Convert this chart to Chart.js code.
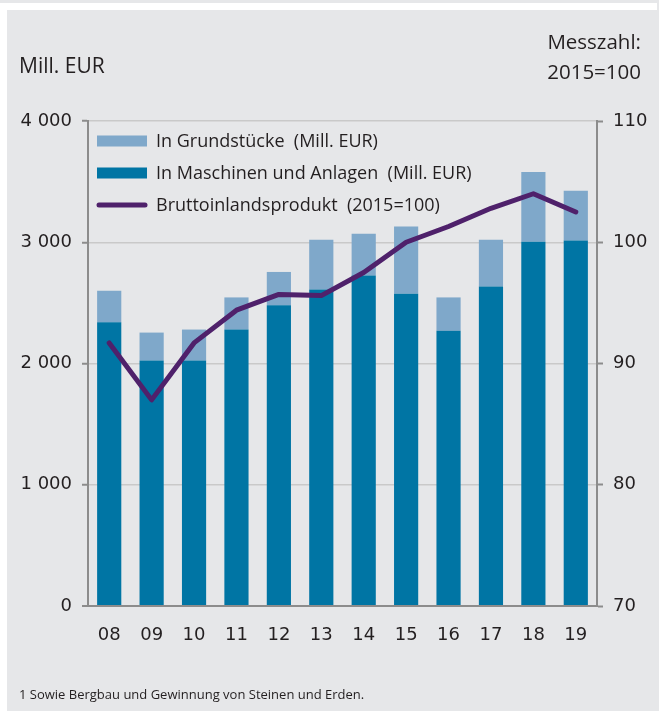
<!DOCTYPE html>
<html>
<head>
<meta charset="utf-8">
<script src="https://cdn.jsdelivr.net/npm/chart.js@4"></script>
<style>
  html, body { margin: 0; padding: 0; background: #ffffff; }
  #wrap { position: relative; width: 659px; height: 711px; }
</style>
</head>
<body>
<div id="wrap"><canvas id="chart" width="659" height="711"></canvas></div>
<script>
// Daten
const jahre = ["08", "09", "10", "11", "12", "13", "14", "15", "16", "17", "18", "19"];
const maschinen = [2340, 2025, 2025, 2280, 2480, 2610, 2725, 2575, 2270, 2635, 3005, 3015];
const grundstuecke = [260, 230, 255, 265, 275, 410, 345, 555, 275, 385, 575, 410];
const bip = [91.7, 87.0, 91.7, 94.4, 95.7, 95.6, 97.5, 100.0, 101.3, 102.8, 104.0, 102.5];
const tickLinks = ["0", "1 000", "2 000", "3 000", "4 000"];
const tickRechts = ["70", "80", "90", "100", "110"];

const schrift = "'Open Sans', 'DejaVu Sans', sans-serif";
const zahlSchrift = "'DejaVu Sans', sans-serif";
const textFarbe = "#231f20";
const achsFarbe = "#8c8c8c";
const gitterFarbe = "#c9c9c9";

const hintergrund = {
    id: "hintergrund",
    beforeDraw(chart) {
        const c = chart.ctx;
        c.save();
        c.fillStyle = "#e6e7e9";
        c.fillRect(0, 0, chart.width, chart.height);
        c.fillStyle = "#ffffff";
        c.fillRect(0, 3, 657, 7);
        c.fillRect(0, 10, 7, chart.height - 10);
        c.restore();
    }
};

const beschriftung = {
    id: "beschriftung",
    afterDraw(chart) {
        const c = chart.ctx;
        c.save();
        c.fillStyle = textFarbe;
        c.textBaseline = "middle";
        c.font = "21px " + schrift;
        c.textAlign = "left";
        c.fillText("Mill. EUR", 19, 67);
        c.font = "20.5px " + schrift;
        c.textAlign = "right";
        c.fillText("Messzahl:", 641, 43);
        c.fillText("2015=100", 641, 73);
        c.textAlign = "left";
        c.font = "13px " + schrift;
        c.fillText("1 Sowie Bergbau und Gewinnung von Steinen und Erden.", 19, 695);

        // Legende
        const eintraege = [chart.data.datasets[1], chart.data.datasets[0], chart.data.datasets[2]];
        c.font = "18px " + schrift;
        eintraege.forEach((ds, i) => {
            const y = 141 + i * 32;
            if (ds.type === "line") {
                c.strokeStyle = ds.borderColor;
                c.lineWidth = 5;
                c.lineCap = "round";
                c.beginPath();
                c.moveTo(99, y);
                c.lineTo(145, y);
                c.stroke();
            } else {
                c.fillStyle = ds.backgroundColor;
                c.fillRect(97, y - 5.5, 50, 11);
            }
            c.fillStyle = textFarbe;
            c.fillText(ds.label, 156, y + 1);
        });
        c.restore();
    }
};

new Chart(document.getElementById("chart"), {
    data: {
        labels: jahre,
        datasets: [
            {
                type: "bar",
                label: "In Maschinen und Anlagen  (Mill. EUR)",
                data: maschinen,
                backgroundColor: "#0075a4",
                yAxisID: "y",
                stack: "inv",
                order: 2,
                barPercentage: 0.57,
                categoryPercentage: 1
            },
            {
                type: "bar",
                label: "In Grundstücke  (Mill. EUR)",
                data: grundstuecke,
                backgroundColor: "#7fa8ca",
                yAxisID: "y",
                stack: "inv",
                order: 2,
                barPercentage: 0.57,
                categoryPercentage: 1
            },
            {
                type: "line",
                label: "Bruttoinlandsprodukt  (2015=100)",
                data: bip,
                borderColor: "#4f216b",
                borderWidth: 5,
                borderCapStyle: "round",
                borderJoinStyle: "round",
                pointRadius: 0,
                tension: 0,
                yAxisID: "y1",
                order: 1
            }
        ]
    },
    options: {
        responsive: false,
        animation: false,
        layout: { padding: { top: 121, left: 0, right: 0, bottom: 0 } },
        plugins: {
            legend: { display: false },
            tooltip: { enabled: false }
        },
        scales: {
            x: {
                stacked: true,
                grid: { display: false },
                border: { display: true, color: achsFarbe, width: 2 },
                ticks: { color: textFarbe, font: { family: zahlSchrift, size: 18 }, padding: 11 },
                afterFit(scale) { scale.height = 105; }
            },
            y: {
                stacked: true,
                position: "left",
                min: 0,
                max: 4000,
                ticks: {
                    stepSize: 1000,
                    color: textFarbe,
                    font: { family: zahlSchrift, size: 18 },
                    padding: 10,
                    callback: (v, i) => tickLinks[i]
                },
                grid: {
                    color: ctx => ctx.tick && ctx.tick.value === 0 ? achsFarbe : gitterFarbe,
                    lineWidth: ctx => ctx.tick && ctx.tick.value === 0 ? 2 : 1.5,
                    tickColor: achsFarbe,
                    tickLength: 6,
                    tickWidth: 2
                },
                border: { display: true, color: achsFarbe, width: 2 },
                afterFit(scale) { scale.width = 88; }
            },
            y1: {
                position: "right",
                min: 70,
                max: 110,
                ticks: {
                    stepSize: 10,
                    color: textFarbe,
                    font: { family: zahlSchrift, size: 18 },
                    padding: 10,
                    callback: (v, i) => tickRechts[i]
                },
                grid: {
                    drawOnChartArea: false,
                    tickColor: achsFarbe,
                    tickLength: 6,
                    tickWidth: 2
                },
                border: { display: true, color: achsFarbe, width: 2 },
                afterFit(scale) { scale.width = 62; }
            }
        }
    },
    plugins: [hintergrund, beschriftung]
});
</script>
</body>
</html>
